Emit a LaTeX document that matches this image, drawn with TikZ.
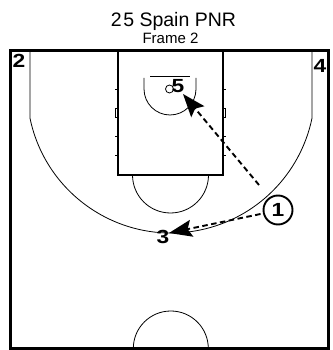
\documentclass[tikz,border=0pt]{standalone}
\usepackage{fontspec}
\setmainfont{Liberation Sans}
\usetikzlibrary{arrows.meta}
\newcommand\widenum[1]{\scalebox{1.2}[1]{#1}}
\begin{document}
\begin{tikzpicture}[x=1pt,y=1pt,
  courtline/.style={line width=0.8pt},
  laneline/.style={line width=1.1pt},
  border/.style={line width=3pt},
  player/.style={font=\fontsize{19}{19}\selectfont\bfseries, inner sep=0pt},
  ballcircle/.style={circle, draw, line width=1.9pt, minimum size=29pt, inner sep=0pt, font=\fontsize{19}{19}\selectfont\bfseries},
  movearrow/.style={line width=1.9pt, dash pattern=on 5.5pt off 3.5pt, -{Stealth[length=23pt,width=17pt,inset=4pt]}}
]
\useasboundingbox (0,0) rectangle (332,350);
% title
\node[anchor=base, inner sep=0pt, font=\fontsize{19.5}{19.5}\selectfont] (title) at (173.5,323) {2\kern1.5pt5 Spain PNR};
\node[anchor=base, inner sep=0pt, font=\fontsize{15}{15}\selectfont] (frame) at (170.5,306) {Frame 2};
% court border
\draw[border] (10.5,1.5) rectangle (328.5,299);
% lane
\draw[laneline] (118,299) -- (118,175) -- (223,175) -- (223,299);
% hash marks
\foreach \yy in {261,214,195} {
  \draw[courtline] (115,\yy) -- (118,\yy);
  \draw[courtline] (223,\yy) -- (226,\yy);
}
\draw[courtline] (115.5,233) rectangle (118,242);
\draw[courtline] (223,233) rectangle (225.5,242);
% free throw semicircle
\draw[courtline] (208.5,175) arc (0:-180:38);
% three point line
\draw[courtline] (30,299) -- (30,231.8) arc (191.7:348.3:144) -- (312,299);
% restricted area
\draw[courtline] (144,272) -- (144,261) arc (180:360:26) -- (196,272);
% backboard and basket
\draw[courtline] (150,274) -- (190,274);
\draw[courtline] (169.5,261) circle (4);
% centre circle
\draw[courtline] (208.3,1.5) arc (0:180:37.5);
% players
\node[player] (p2) at (19,289) {\widenum{2}};
\node[player] (p4) at (320,284) {\widenum{4}};
\node[player] (p5) at (178,264) {\widenum{5}};
\node[player] (p3) at (163,113) {\widenum{3}};
\node[ballcircle] (p1) at (278,140) {\widenum{1}};
% movement
\coordinate (s5) at (259,165);
\coordinate (t5) at (183,256);
\coordinate (t3) at (169,117);
\draw[movearrow] (s5) -- (t5);
\draw[movearrow] (p1.west) ++(-2,-4) coordinate (s3) (s3) -- (t3);
\end{tikzpicture}
\end{document}
